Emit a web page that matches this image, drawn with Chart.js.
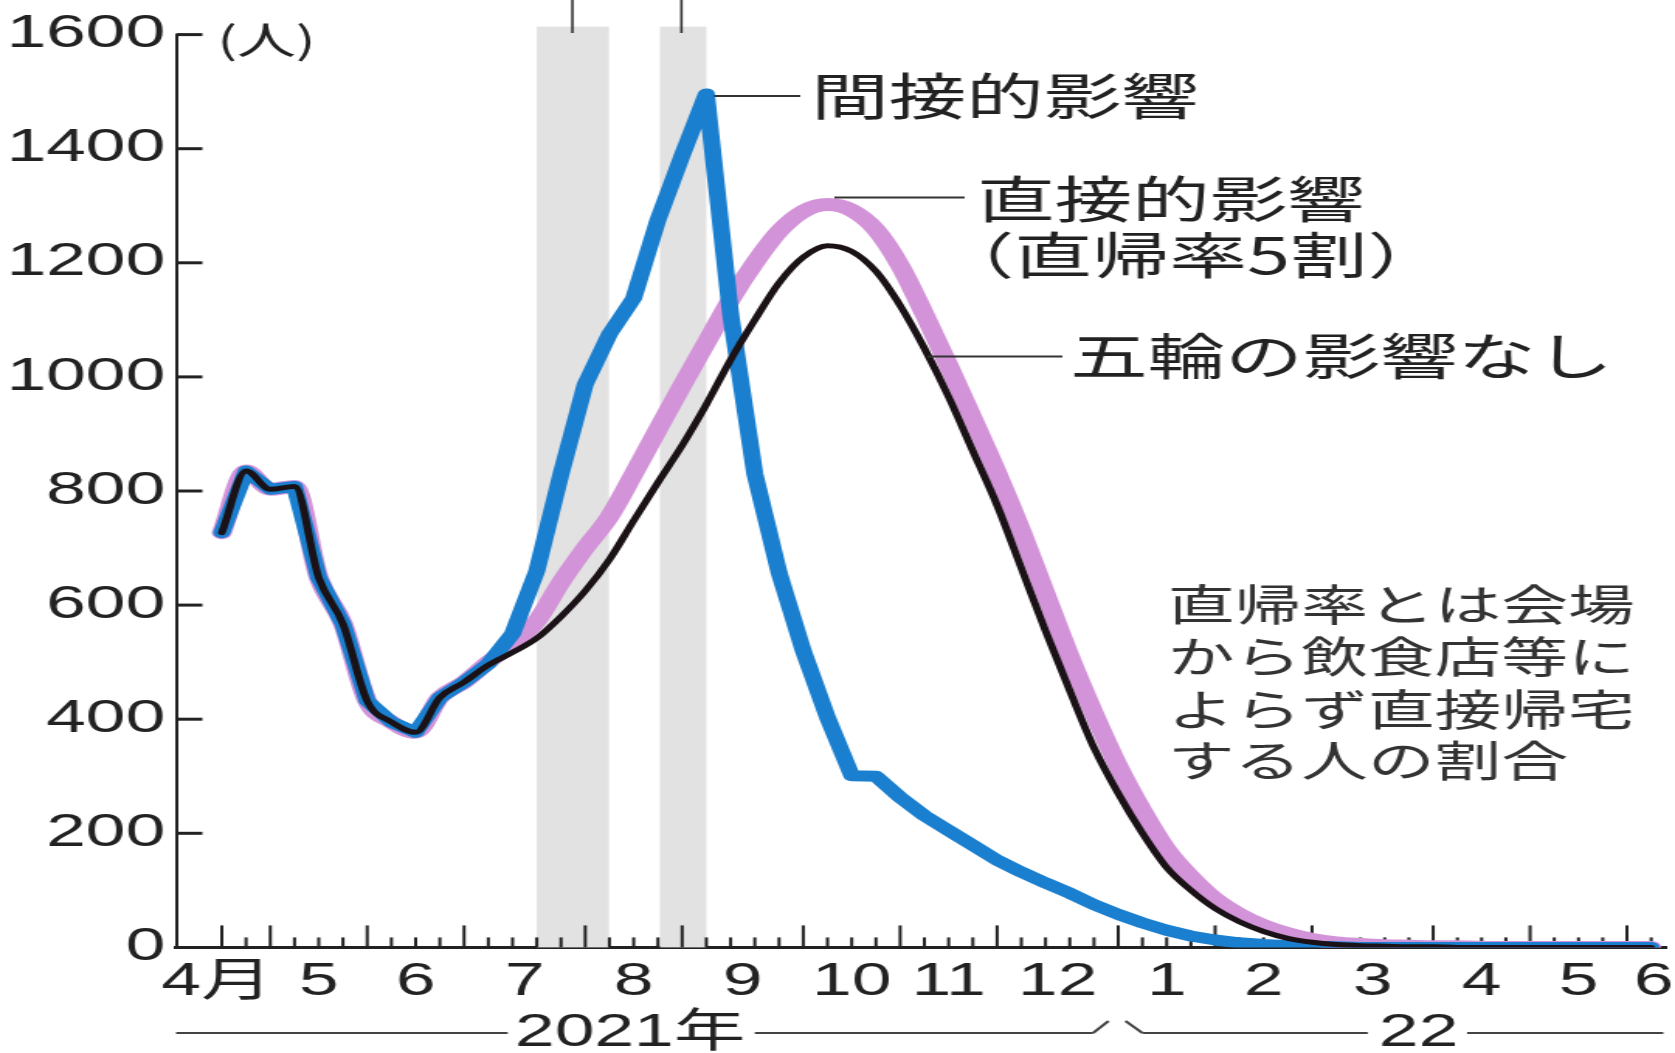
<!DOCTYPE html>
<html lang="ja">
<head>
<meta charset="utf-8">
<title>五輪の影響</title>
<script src="https://cdn.jsdelivr.net/npm/chart.js@4.4.1/dist/chart.umd.min.js"></script>
<style>
  html, body { margin: 0; padding: 0; background: #fff; overflow: hidden; }
  /* the source graphic is stretched sideways, so draw narrow and widen it */
  #wrap { width: 1080px; height: 1053px; transform: scaleX(1.55093); transform-origin: 0 0; }
</style>
</head>
<body>
<div id="wrap"><canvas id="chart" width="1080" height="1053"></canvas></div>
<script>
// weeks since mid-April 2021
const weeks = [0, 1, 2, 3, 4, 5, 6, 7, 8, 9, 10, 11, 12, 13, 14, 15, 16, 17, 18, 19,
  20, 21, 22, 23, 24, 25, 26, 27, 28, 29, 30, 31, 32, 33, 34, 35, 36, 37, 38, 39,
  40, 41, 42, 43, 44, 45, 46, 47, 48, 49, 50, 51, 52, 53, 54, 55, 56, 57, 58, 59];

// 五輪の影響なし
const noOlympics = [727, 835, 803, 808, 648, 567, 432, 395, 377, 438,
  465, 495, 517, 542, 580, 625, 680, 748, 815, 880,
  952, 1030, 1100, 1165, 1210, 1230, 1220, 1185, 1125, 1050,
  965, 870, 775, 665, 555, 450, 350, 270, 200, 140,
  100, 68, 45, 28, 16, 9, 5, 3, 2, 1,
  1, 0, 0, 0, 0, 0, 0, 0, 0, 0];

// 直接的影響（直帰率5割）
const directEffect = [727, 835, 803, 808, 648, 567, 432, 395, 377, 438,
  465, 500, 532, 572, 640, 700, 755, 830, 908, 985,
  1060, 1135, 1200, 1255, 1290, 1302, 1292, 1258, 1195, 1110,
  1020, 927, 832, 730, 620, 510, 410, 318, 240, 172,
  124, 85, 58, 38, 24, 14, 8, 5, 3, 2,
  1, 1, 0, 0, 0, 0, 0, 0, 0, 0];

// 間接的影響
const indirectEffect = [727, 835, 803, 808, 648, 567, 432, 395, 377, 438,
  465, 497, 550, 660, 830, 987, 1075, 1138, 1275, 1388,
  1496, 1110, 830, 657, 520, 403, 301, 300, 263, 231,
  205, 179, 153, 132, 113, 95, 75, 58, 43, 30,
  20, 13, 8, 5, 3, 2, 1, 0, 0, 0,
  0, 0, 0, 0, 0, 0, 0, 0, 0, 0];

const monthLabels = ['4月', '5', '6', '7', '8', '9', '10', '11', '12', '1', '2', '3', '4', '5', '6'];
const monthLabelPos = [-0.2, 4, 8, 12.5, 17, 21.5, 26, 30, 34.5, 39, 43, 47.5, 52, 56, 59.1];
const monthStarts = [0, 2, 6, 10, 15, 19, 24, 28, 32, 37, 41, 45, 50, 54, 58];
const yTicks = [0, 200, 400, 600, 800, 1000, 1200, 1400, 1600];

// olympic / paralympic periods (grey) and their marks on top
const olympicBands = [[13.0, 15.98], [18.08, 20.0]];
const olympicMarks = [14.47, 18.97];

const FONT_NUM = "'Liberation Sans', Arial, 'Noto Sans CJK JP', sans-serif";
const FONT_JP = "'Noto Sans CJK JP', sans-serif";
const INK = '#222';

const toXY = vals => weeks.map((w, i) => ({ x: w, y: vals[i] }));

const decor = {
  id: 'decor',
  beforeDatasetsDraw(chart) {
    const { ctx, chartArea, scales: { x, y } } = chart;
    ctx.save();
    // grey bands
    ctx.fillStyle = '#e2e2e2';
    const top = y.getPixelForValue(1614);
    const bottom = y.getPixelForValue(0);
    olympicBands.forEach(b => {
      const x0 = x.getPixelForValue(b[0]);
      const x1 = x.getPixelForValue(b[1]);
      ctx.fillRect(x0, top, x1 - x0, bottom - top);
    });
    ctx.strokeStyle = '#333';
    ctx.lineWidth = 1.6;
    olympicMarks.forEach(m => {
      const px = x.getPixelForValue(m);
      ctx.beginPath();
      ctx.moveTo(px, 0);
      ctx.lineTo(px, 33);
      ctx.stroke();
    });
    // weekly ticks, taller at month change
    ctx.strokeStyle = INK;
    ctx.lineWidth = 2;
    for (let w = 0; w <= 59; w++) {
      const px = x.getPixelForValue(w);
      const len = monthStarts.includes(w) ? 22 : 10;
      ctx.beginPath();
      ctx.moveTo(px, bottom);
      ctx.lineTo(px, bottom - len);
      ctx.stroke();
    }
    // y ticks point inward
    ctx.lineWidth = 3;
    yTicks.forEach(v => {
      if (v === 0) return;
      const py = y.getPixelForValue(v);
      ctx.beginPath();
      ctx.moveTo(chartArea.left, py);
      ctx.lineTo(chartArea.left + 17, py);
      ctx.stroke();
    });
    ctx.restore();
  },
  afterDraw(chart) {
    const { ctx, scales: { x, y } } = chart;
    ctx.save();
    ctx.textBaseline = 'middle';
    ctx.textAlign = 'left';
    ctx.fillStyle = INK;
    ctx.strokeStyle = '#333';
    ctx.lineWidth = 2;

    const line = (x0, y0, x1, y1) => {
      ctx.beginPath();
      ctx.moveTo(x0, y0);
      ctx.lineTo(x1, y1);
      ctx.stroke();
    };

    ctx.font = '38px ' + FONT_JP;
    ctx.fillText('(人)', 140, 40);

    // series labels
    ctx.font = '50px ' + FONT_JP;
    line(x.getPixelForValue(20) + 5, 96, 516, 96);
    ctx.fillText('間接的影響', 523, 96);

    line(538, 197.5, 622, 197.5);
    ctx.fillText('直接的影響', 630, 199);
    ctx.fillText('（直帰率5割）', 604, 255);

    line(598, 356.5, 685, 356.5);
    ctx.fillText('五輪の影響なし', 690, 356);

    ctx.font = '43px ' + FONT_JP;
    ctx.fillStyle = '#333';
    ['直帰率とは会場', 'から飲食店等に', 'よらず直接帰宅', 'する人の割合'].forEach((t, i) => {
      ctx.fillText(t, 753, [605, 657, 710, 761][i]);
    });

    // year line under the months
    const yl = 1033;
    const px = w => x.getPixelForValue(w);
    ctx.strokeStyle = '#444';
    line(px(-1.89), yl, px(11.8), yl);
    line(px(22.0), yl, px(35.96), yl);
    line(px(35.96), yl, px(36.6), yl - 12);
    line(px(37.3), yl - 12, px(38.0), yl);
    line(px(38.0), yl, px(47.3), yl);
    line(px(51.4), yl, px(59.5), yl);
    ctx.fillStyle = INK;
    ctx.textAlign = 'center';
    ctx.font = '46px ' + FONT_NUM;
    ctx.fillText('2021年', px(16.85), yl);
    ctx.fillText('22', px(49.4), yl);
    ctx.restore();
  }
};

const lineStyle = {
  pointRadius: 0,
  fill: false,
  borderJoinStyle: 'round',
  borderCapStyle: 'round'
};

new Chart(document.getElementById('chart'), {
  type: 'line',
  data: {
    datasets: [
      { ...lineStyle, label: '五輪の影響なし', data: toXY(noOlympics), borderColor: '#1a1216', borderWidth: 5, cubicInterpolationMode: 'monotone' },
      { ...lineStyle, label: '間接的影響', data: toXY(indirectEffect), borderColor: '#1b7fcf', borderWidth: 11, tension: 0 },
      { ...lineStyle, label: '直接的影響（直帰率5割）', data: toXY(directEffect), borderColor: '#d393d8', borderWidth: 13, cubicInterpolationMode: 'monotone' }
    ]
  },
  options: {
    responsive: false,
    devicePixelRatio: 1,
    animation: false,
    layout: { padding: { top: 30.5, right: 5.2, bottom: 0, left: 0 } },
    plugins: { legend: { display: false }, tooltip: { enabled: false } },
    scales: {
      x: {
        type: 'linear',
        min: -1.89,
        max: 59.65,
        grid: { display: false, drawTicks: false },
        border: { display: true, color: INK, width: 3 },
        afterBuildTicks: axis => { axis.ticks = monthLabelPos.map(v => ({ value: v })); },
        afterFit: s => { s.height = 105.6; s.paddingLeft = 0; s.paddingRight = 0; },
        ticks: {
          autoSkip: false,
          maxRotation: 0,
          padding: 7,
          color: INK,
          font: { family: FONT_NUM, size: 46 },
          callback: (v, i) => monthLabels[i]
        }
      },
      y: {
        min: 0,
        max: 1600,
        grid: { display: false, drawTicks: false },
        border: { display: true, color: INK, width: 2 },
        afterFit: s => { s.width = 113.5; },
        ticks: {
          stepSize: 200,
          padding: 7,
          color: INK,
          font: { family: FONT_NUM, size: 46 },
          callback: v => String(v)
        }
      }
    }
  },
  plugins: [decor]
});
</script>
</body>
</html>
